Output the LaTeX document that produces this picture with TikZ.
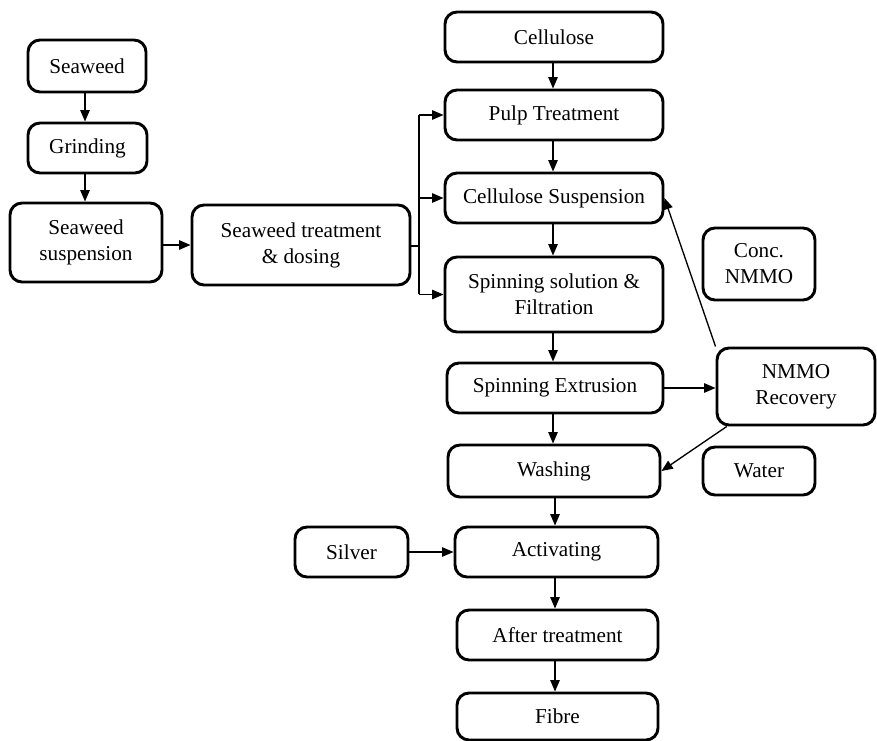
\documentclass[tikz,border=0pt]{standalone}
\usepackage{fontspec}
\setmainfont{Liberation Serif}
\usetikzlibrary{arrows.meta}
\begin{document}
\begin{tikzpicture}[x=0.75pt,y=-0.75pt,
  box/.style={draw, line width=2.2pt, rounded corners=9pt, align=center,
    inner sep=0pt, font=\fontsize{15.9}{19.5}\selectfont},
  sz/.style 2 args={minimum width=#1*0.75pt, minimum height=#2*0.75pt},
  arr/.style={line width=1pt, -{Triangle[length=8.5pt,width=7pt]}},
  ln/.style={line width=1pt}]
\useasboundingbox (0,0) rectangle (877,741);

% seaweed branch
\node[box, sz={118}{52}]  (seaweed) at (87,66)    {Seaweed};
\node[box, sz={119}{50}]  (grind)   at (87.5,148) {Grinding};
\node[box, sz={152}{79}]  (susp)    at (86,242.5) {Seaweed\\suspension};
\node[box, sz={218}{80}]  (treat)   at (301,245)  {Seaweed treatment\\\& dosing};

% main cellulose line
\node[box, sz={218}{50}]  (cell)    at (554,37)    {Cellulose};
\node[box, sz={218}{50}]  (pulp)    at (554,115)   {Pulp Treatment};
\node[box, sz={218}{50}]  (csusp)   at (554,198)   {Cellulose Suspension};
\node[box, sz={218}{75}]  (spinsol) at (554,294.5) {Spinning solution \&\\Filtration};
\node[box, sz={216}{50}]  (extr)    at (555,388)   {Spinning Extrusion};
\node[box, sz={212}{52}]  (wash)    at (554,471)   {Washing};
\node[box, sz={203}{50}]  (act)     at (556.5,552) {Activating};
\node[box, sz={201}{50}]  (after)   at (557.5,635) {After treatment};
\node[box, sz={201}{47}]  (fibre)   at (557.5,716.5) {Fibre};

% side inputs
\node[box, sz={113}{50}]  (silver)  at (351.5,552) {Silver};
\node[box, sz={112}{72}]  (conc)    at (759,264)   {Conc.\\NMMO};
\node[box, sz={158}{77}]  (recov)   at (796,386.5) {NMMO\\Recovery};
\node[box, sz={112}{48}]  (water)   at (759,471)   {Water};

% seaweed connectors
\draw[arr] (seaweed.south -| 85,0) -- (grind.north -| 85,0);
\draw[arr] (grind.south -| 85,0) -- (susp.north -| 85,0);
\draw[arr] (susp.east |- 0,245) -- (treat.west);

% branch into the cellulose line
\coordinate (br) at (419,246);
\draw[ln] (treat.east |- br) -- (br);
\draw[ln] (br |- pulp.west) -- (br |- spinsol.west);
\draw[arr] (br |- pulp.west) -- (pulp.west);
\draw[arr] (br |- csusp.west) -- (csusp.west);
\draw[arr] (br |- spinsol.west) -- (spinsol.west);

% vertical flow
\draw[arr] (553,0 |- cell.south) -- (553,0 |- pulp.north);
\draw[arr] (553,0 |- pulp.south) -- (553,0 |- csusp.north);
\draw[arr] (553,0 |- csusp.south) -- (553,0 |- spinsol.north);
\draw[arr] (553,0 |- spinsol.south) -- (553,0 |- extr.north);
\draw[arr] (553,0 |- extr.south) -- (553,0 |- wash.north);
\draw[arr] (555,0 |- wash.south) -- (555,0 |- act.north);
\draw[arr] (555,0 |- act.south) -- (555,0 |- after.north);
\draw[arr] (555,0 |- after.south) -- (555,0 |- fibre.north);

% solvent loop and silver
\draw[arr] (extr.east) -- (extr.east -| recov.west);
\draw[arr] (recov.north west) -- (csusp.east);
\draw[arr] (recov.210) -- (wash.east);
\draw[arr] (silver.east) -- (act.west);
\end{tikzpicture}
\end{document}
